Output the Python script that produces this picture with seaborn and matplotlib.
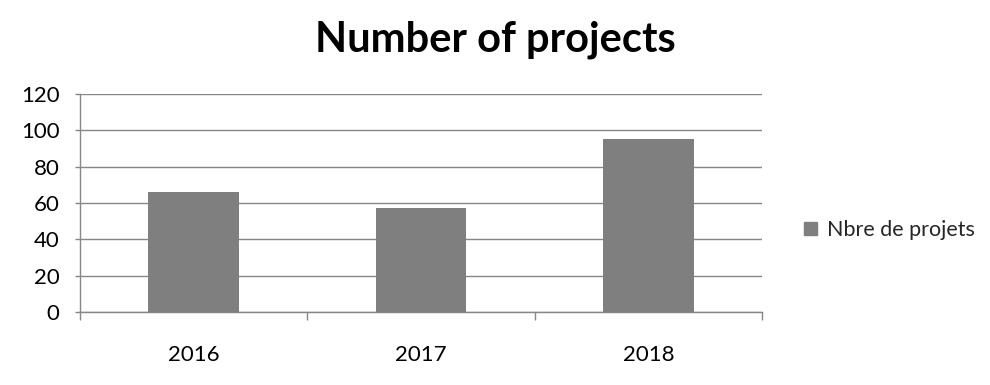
import matplotlib
matplotlib.use("Agg")
import matplotlib.pyplot as plt
import seaborn as sns
import pandas as pd
from matplotlib.ticker import FixedLocator, MultipleLocator
from matplotlib.patches import Patch

years = ["2016", "2017", "2018"]
projects = [66, 57, 95]
series_name = "Nbre de projets"
title = "Number of projects"

sns.set_theme(style="white")
plt.rcParams['font.family'] = ['Lato', 'DejaVu Sans']

df = pd.DataFrame({"year": years, "n": projects})

fig = plt.figure(figsize=(9.9, 3.85), dpi=100)
ax = fig.add_axes([80/990, 1-312/385, (762-80)/990, (312-94)/385])

grid_c = "#868686"
bar_c = "#7f7f7f"
sns.barplot(data=df, x="year", y="n", color=bar_c, width=0.4, ax=ax,
            saturation=1, zorder=3, linewidth=0)

ax.set_ylim(0, 120)
ax.set_xlim(-0.5, 2.5)
ax.yaxis.set_major_locator(MultipleLocator(20))
ax.grid(axis="y", color=grid_c, linewidth=1, zorder=0)
ax.set_axisbelow(True)
for s in ["top", "right"]:
    ax.spines[s].set_visible(False)
for s in ["left", "bottom"]:
    ax.spines[s].set_color(grid_c)
    ax.spines[s].set_linewidth(1)

ax.set_xlabel("")
ax.set_ylabel("")
ax.tick_params(axis="y", which="major", left=True, length=3.6, width=1,
               color=grid_c, labelsize=16, pad=11, labelcolor="black")
ax.tick_params(axis="x", which="major", bottom=False, labelsize=16, pad=18,
               labelcolor="black")
ax.xaxis.set_minor_locator(FixedLocator([-0.5, 0.5, 1.5, 2.5]))
ax.tick_params(axis="x", which="minor", bottom=True, length=6, width=1,
               color=grid_c)

fig.text(0.5, 1-40/385, title, ha="center", va="center", fontsize=30,
         fontweight="bold", color="black")

leg = fig.legend(handles=[Patch(facecolor=bar_c, edgecolor=bar_c, label=series_name)],
                 loc="center left", bbox_to_anchor=(785/990, 1-230/385),
                 frameon=False, fontsize=15.5, handlelength=0.6, handleheight=0.6,
                 handletextpad=0.45)

fig.savefig("out.png", dpi=100)
